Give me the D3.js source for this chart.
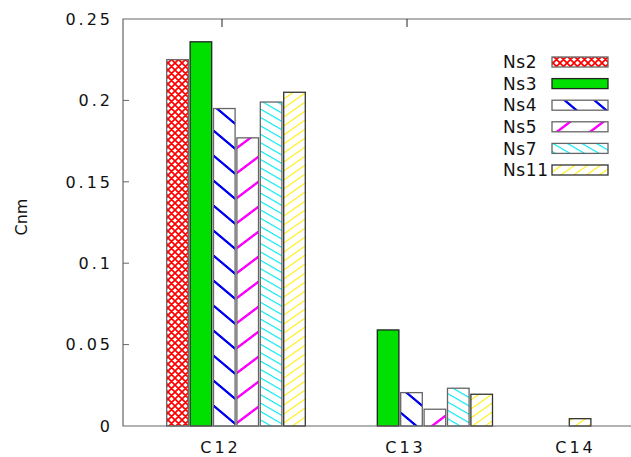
<!DOCTYPE html>
<html><head><meta charset="utf-8">
<script src="https://cdn.jsdelivr.net/npm/d3@7"></script>
<style>
body{margin:0;background:#fff;}
text{font-family:"DejaVu Sans",sans-serif;fill:#111;}
</style></head>
<body><svg id="c" width="631" height="457"></svg>
<script>
const categories = ["C12","C13","C14"];
const seriesNames = ["Ns2","Ns3","Ns4","Ns5","Ns7","Ns11"];
const Ns2  = [0.225, 0,      0];
const Ns3  = [0.236, 0.059,  0];
const Ns4  = [0.195, 0.0205, 0];
const Ns5  = [0.177, 0.0103, 0];
const Ns7  = [0.199, 0.0232, 0];
const Ns11 = [0.205, 0.0195, 0.0045];
const yTicks = [0, 0.05, 0.1, 0.15, 0.2, 0.25];
const yTickLabels = ["0","0.05","0.1","0.15","0.2","0.25"];
const yLabel = "Cnm";

const seriesValues = [Ns2, Ns3, Ns4, Ns5, Ns7, Ns11];
const svg = d3.select("#c");
const mLeft = 123, mTop = 19, mBottom = 426, mRight = 631;

const y = d3.scaleLinear().domain([0, 0.25]).range([mBottom, mTop]);
// group start positions and label positions (layout)
const groupX = d3.scaleOrdinal().domain(categories).range([166.7, 353.9, 452.3]);
const labelX = d3.scaleOrdinal().domain(categories).range([219, 404, 574]);
const barStep = 23.4, barW = 21.6;

// patterns
const defs = svg.append("defs");
function hatch(id, color, period, thick, angle){
  const p = defs.append("pattern").attr("id", id).attr("patternUnits","userSpaceOnUse")
    .attr("width", 10).attr("height", period).attr("patternTransform", `skewY(${angle})`);
  p.append("rect").attr("width",10).attr("height",period).attr("fill","#fff");
  p.append("rect").attr("y",0).attr("width",10).attr("height",thick).attr("fill",color);
}
const cross = defs.append("pattern").attr("id","p0").attr("patternUnits","userSpaceOnUse")
  .attr("width",7).attr("height",7);
cross.append("rect").attr("width",7).attr("height",7).attr("fill","#fff");
cross.append("path").attr("d","M0,0L7,7M7,0L0,7M-1,6L1,8M6,-1L8,1M6,8L8,6M-1,1L1,-1")
  .attr("stroke","#ff0000").attr("stroke-width",1.7);
hatch("p2", "#0000f0", 25, 3, 40);
hatch("p3", "#ff00ff", 25, 3, -37);
hatch("p4", "#00e8f0", 8.4, 1.3, 30);
hatch("p5", "#ffee00", 9, 1.3, -35);
const fills = ["url(#p0)", "#00e000", "url(#p2)", "url(#p3)", "url(#p4)", "url(#p5)"];
const strokes = ["#666", "#222", "#666", "#666", "#666", "#333"];

// bars
const data = [];
categories.forEach((c, ci) => seriesValues.forEach((vals, si) => {
  if (vals[ci] > 0) data.push({c, si, v: vals[ci]});
}));
svg.append("g").selectAll("rect").data(data).join("rect")
  .attr("x", d => groupX(d.c) + d.si * barStep)
  .attr("y", d => y(d.v))
  .attr("width", barW)
  .attr("height", d => mBottom - y(d.v))
  .attr("fill", d => fills[d.si])
  .attr("stroke", d => strokes[d.si])
  .attr("stroke-width", 1.3);

// frame
const axisCol = "#666";
svg.append("path").attr("d", `M${mRight},${mTop}H${mLeft}V${mBottom}H${mRight}`)
  .attr("fill","none").attr("stroke", axisCol).attr("stroke-width", 1.2);

// y ticks
const yg = svg.append("g");
yTicks.forEach((t, i) => {
  if (t > 0 && t < 0.25) yg.append("line").attr("x1", mLeft).attr("x2", mLeft + 6)
    .attr("y1", y(t)).attr("y2", y(t)).attr("stroke", axisCol).attr("stroke-width", 1);
  yg.append("text").attr("x", 113).attr("y", y(t)).attr("dy", "0.36em")
    .attr("text-anchor","end").attr("font-size", 16).attr("letter-spacing", 3)
    .text(yTickLabels[i]);
});
// x ticks (top mirror) and labels
categories.forEach((c, i) => {
  if (i < 2) svg.append("line").attr("x1", labelX(c) + 3).attr("x2", labelX(c) + 3)
    .attr("y1", mTop).attr("y2", mTop + 8).attr("stroke", "#222").attr("stroke-width", 1);
  svg.append("text").attr("x", labelX(c) + 1.5).attr("y", 447).attr("dy","0.35em")
    .attr("text-anchor","middle").attr("font-size", 16).attr("letter-spacing", 3).text(c);
});
svg.append("text").attr("transform", `translate(21,217) rotate(-90)`)
  .attr("text-anchor","middle").attr("dy","0.36em").attr("font-size", 16)
  .text(yLabel);

// legend
const lg = svg.append("g");
seriesNames.forEach((n, i) => {
  const cy = 62 + i * 21.6;
  lg.append("text").attr("x", 503).attr("y", cy).attr("dy","0.36em")
    .attr("font-size", 17).attr("letter-spacing", 0.6).text(n);
  lg.append("rect").attr("x", 552).attr("y", cy - 5).attr("width", 56).attr("height", 10)
    .attr("fill", fills[i]).attr("stroke", strokes[i]).attr("stroke-width", 1.3);
});
</script></body></html>
